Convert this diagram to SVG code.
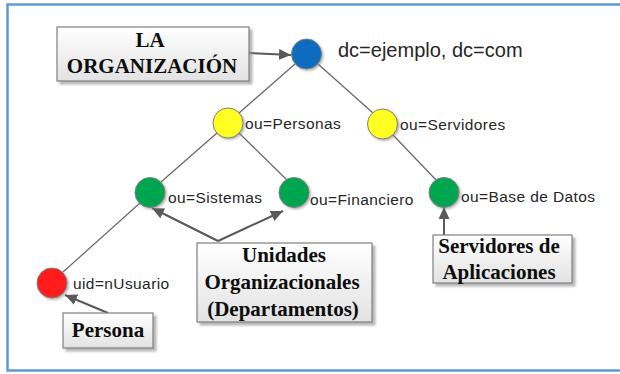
<svg xmlns="http://www.w3.org/2000/svg" width="620" height="374" viewBox="0 0 620 374">
<defs>
<style>
.frame{fill:#ffffff;stroke:#5b9bd5;stroke-width:2.5}
.edge{stroke:#666666;stroke-width:1.2;fill:none}
.arrow{stroke:#595959;stroke-width:2;fill:none;marker-end:url(#ah)}
.node{stroke:#7f7f7f;stroke-width:1;filter:url(#sh)}
.lbl{font-family:"Liberation Sans",Arial,sans-serif;font-size:15.5px;letter-spacing:0.4px;fill:#262626}
.box{fill:url(#g);stroke:#7f7f7f;stroke-width:1.2;filter:url(#bsh)}
.bt{font-family:"Liberation Serif","Times New Roman",serif;font-weight:bold;font-size:21px;fill:#0d0d0d;text-anchor:middle}
</style>
<linearGradient id="g" x1="0" y1="0" x2="0" y2="1">
<stop offset="0" stop-color="#ffffff"/>
<stop offset="1" stop-color="#e2e2e2"/>
</linearGradient>
<filter id="sh" x="-30%" y="-30%" width="160%" height="160%">
<feDropShadow dx="1.5" dy="1.5" stdDeviation="1" flood-color="#808080" flood-opacity="0.6"/>
</filter>
<filter id="bsh" x="-10%" y="-10%" width="120%" height="130%">
<feDropShadow dx="3" dy="3" stdDeviation="1.2" flood-color="#9a9a9a" flood-opacity="0.7"/>
</filter>
<marker id="ah" markerUnits="userSpaceOnUse" markerWidth="13" markerHeight="11" refX="12" refY="5.5" orient="auto">
<path d="M0,0 L12,5.5 L0,11 z" fill="#595959"/>
</marker>
</defs>
<rect class="frame" x="7.5" y="4.5" width="620" height="366"/>
<g id="connectors">
<line class="edge" x1="295" y1="64" x2="239" y2="113"/>
<line class="edge" x1="318" y1="64" x2="373" y2="113"/>
<line class="edge" x1="217" y1="133" x2="161" y2="182"/>
<line class="edge" x1="239" y1="133" x2="287" y2="180"/>
<line class="edge" x1="393" y1="135" x2="437" y2="181"/>
<line class="edge" x1="140" y1="203" x2="63" y2="272"/>
<line class="arrow" x1="249" y1="53" x2="291" y2="55"/>
<line class="arrow" x1="218" y1="241" x2="152" y2="208"/>
<line class="arrow" x1="218" y1="241" x2="283" y2="211"/>
<line class="arrow" x1="108" y1="313" x2="65" y2="295"/>
<line class="arrow" x1="444" y1="235" x2="444" y2="207"/>
</g>
<g id="root">
<circle class="node" cx="306.5" cy="54" r="15" fill="#0a6cc0"/>
<text class="lbl" x="338" y="57" style="font-size:20px;letter-spacing:0">dc=ejemplo, dc=com</text>
</g>
<g id="personas">
<circle class="node" cx="228" cy="123" r="15" fill="#ffff22"/>
<text class="lbl" x="245" y="129">ou=Personas</text>
</g>
<g id="servidores">
<circle class="node" cx="382.5" cy="124" r="15" fill="#ffff22"/>
<text class="lbl" x="400" y="130">ou=Servidores</text>
</g>
<g id="sistemas">
<circle class="node" cx="150" cy="192.5" r="15" fill="#00a650"/>
<text class="lbl" x="168" y="203">ou=Sistemas</text>
</g>
<g id="financiero">
<circle class="node" cx="294" cy="192.5" r="15" fill="#00a650"/>
<text class="lbl" x="310" y="205">ou=Financiero</text>
</g>
<g id="basedatos">
<circle class="node" cx="444" cy="192.5" r="15" fill="#00a650"/>
<text class="lbl" x="461" y="202">ou=Base de Datos</text>
</g>
<g id="usuario">
<circle class="node" cx="52" cy="283" r="15" fill="#ff1a1a"/>
<text class="lbl" x="73" y="289">uid=nUsuario</text>
</g>
<g id="organizacion">
<rect class="box" x="57" y="27" width="192" height="54"/>
<text class="bt" x="150" y="47">LA</text>
<text class="bt" x="152" y="73">ORGANIZACIÓN</text>
</g>
<g id="unidades">
<rect class="box" x="197" y="243" width="175" height="79"/>
<text class="bt" x="284" y="262">Unidades</text>
<text class="bt" x="282" y="289">Organizacionales</text>
<text class="bt" x="283" y="316">(Departamentos)</text>
</g>
<g id="aplicaciones">
<rect class="box" x="433" y="235" width="139" height="48"/>
<text class="bt" x="499" y="253">Servidores de</text>
<text class="bt" x="499" y="279">Aplicaciones</text>
</g>
<g id="persona">
<rect class="box" x="63" y="313" width="90" height="35"/>
<text class="bt" x="108" y="337">Persona</text>
</g>
</svg>
